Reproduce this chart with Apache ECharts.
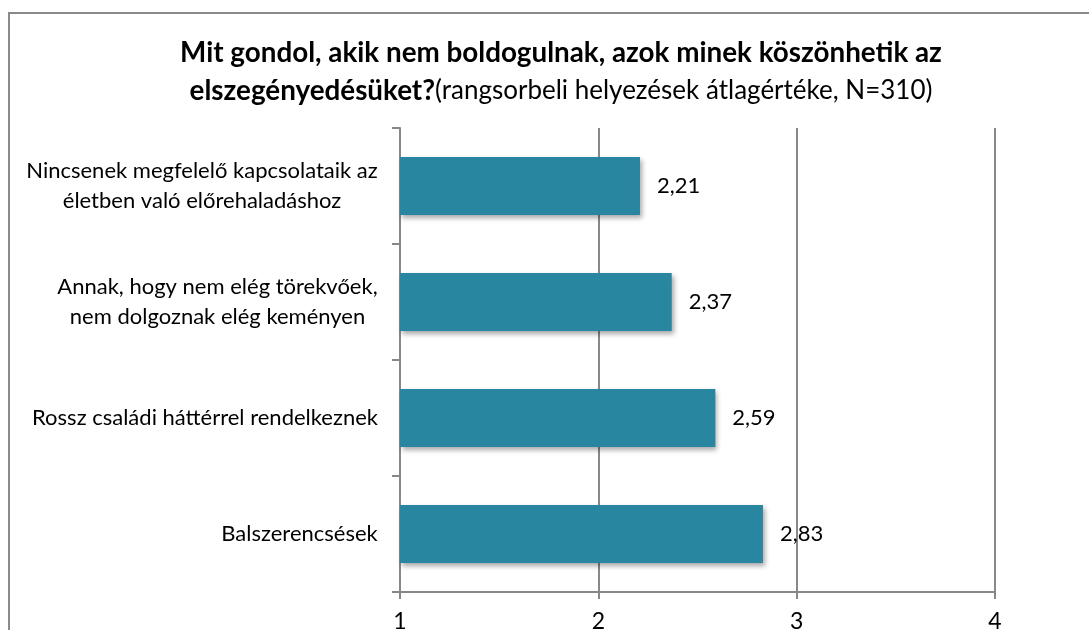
<!DOCTYPE html>
<html>
<head>
<meta charset="utf-8">
<script src="https://cdn.jsdelivr.net/npm/echarts@6/dist/echarts.min.js"></script>
<style>
  html, body { margin: 0; padding: 0; background: #fff; }
  #chart { width: 1089px; height: 630px; }
</style>
</head>
<body>
<div id="chart"></div>
<script>
// adatok
const categories = [
  'Nincsenek megfelelő kapcsolataik az\néletben való előrehaladáshoz',
  'Annak, hogy nem elég törekvőek,\nnem dolgoznak elég keményen',
  'Rossz családi háttérrel rendelkeznek',
  'Balszerencsések'
];
const values = [2.21, 2.37, 2.59, 2.83];
const axisTicks = [1, 2, 3, 4];

const FONT = 'Lato, "Open Sans", sans-serif';
const LABEL_SIZE = 22;

// több soros címkék: a sorok középre, a blokk jobbra igazítva
const ctx = document.createElement('canvas').getContext('2d');
ctx.font = LABEL_SIZE + 'px ' + FONT;
const rich = {};
categories.forEach((c, i) => {
  const w = Math.max(...c.split('\n').map(l => ctx.measureText(l).width));
  rich['c' + i] = { width: Math.ceil(w), align: 'center', fontSize: LABEL_SIZE, fontFamily: FONT, color: '#000', lineHeight: 30 };
});

const myChart = echarts.init(document.getElementById('chart'));

myChart.setOption({
  animation: false,
  title: {
    left: 556,
    top: 29,
    textAlign: 'center',
    text: '{b|Mit gondol, akik nem boldogulnak, azok minek köszönhetik az}\n{b|elszegényedésüket?}{n|(rangsorbeli helyezések átlagértéke, N=310)}',
    textStyle: {
      rich: {
        b: { fontFamily: FONT, fontWeight: 'bold', fontSize: 27.8, color: '#000', lineHeight: 38 },
        n: { fontFamily: FONT, fontWeight: 'normal', fontSize: 26, color: '#000', lineHeight: 38 }
      }
    }
  },
  graphic: [
    {
      type: 'rect',
      shape: { x: 9, y: 13, width: 1200, height: 700 },
      style: { fill: 'none', stroke: '#8a8a8a', lineWidth: 2 },
      silent: true
    }
  ],
  grid: {
    left: 400,
    right: 94,
    top: 128,
    bottom: 38,
    outerBoundsMode: 'none'
  },
  xAxis: {
    type: 'value',
    min: 1,
    max: 4,
    interval: 1,
    axisLine: { show: true, lineStyle: { color: '#888', width: 2 } },
    axisTick: { show: true, length: 7, lineStyle: { color: '#888', width: 2 } },
    splitLine: { show: true, lineStyle: { color: '#888', width: 2 } },
    axisLabel: {
      margin: 18,
      fontFamily: FONT,
      fontSize: 23,
      color: '#000',
      formatter: v => axisTicks.includes(v) ? String(v) : ''
    }
  },
  yAxis: {
    type: 'category',
    inverse: true,
    data: categories,
    axisLine: { show: true, lineStyle: { color: '#888', width: 2 } },
    axisTick: { show: true, length: 8, interval: 0, lineStyle: { color: '#888', width: 2 } },
    axisLabel: {
      margin: 22,
      interval: 0,
      formatter: (v, i) => v.split('\n').map(l => '{c' + i + '|' + l + '}').join('\n'),
      rich: rich
    }
  },
  series: [
    {
      type: 'bar',
      data: values,
      barWidth: 58,
      itemStyle: {
        color: '#2886a0',
        shadowColor: 'rgba(0,0,0,0.35)',
        shadowBlur: 5,
        shadowOffsetX: 2,
        shadowOffsetY: 3
      },
      label: {
        show: true,
        position: 'right',
        distance: 17,
        fontFamily: FONT,
        fontSize: LABEL_SIZE,
        color: '#000',
        formatter: p => p.value.toFixed(2).replace('.', ',')
      }
    }
  ]
});
</script>
</body>
</html>
